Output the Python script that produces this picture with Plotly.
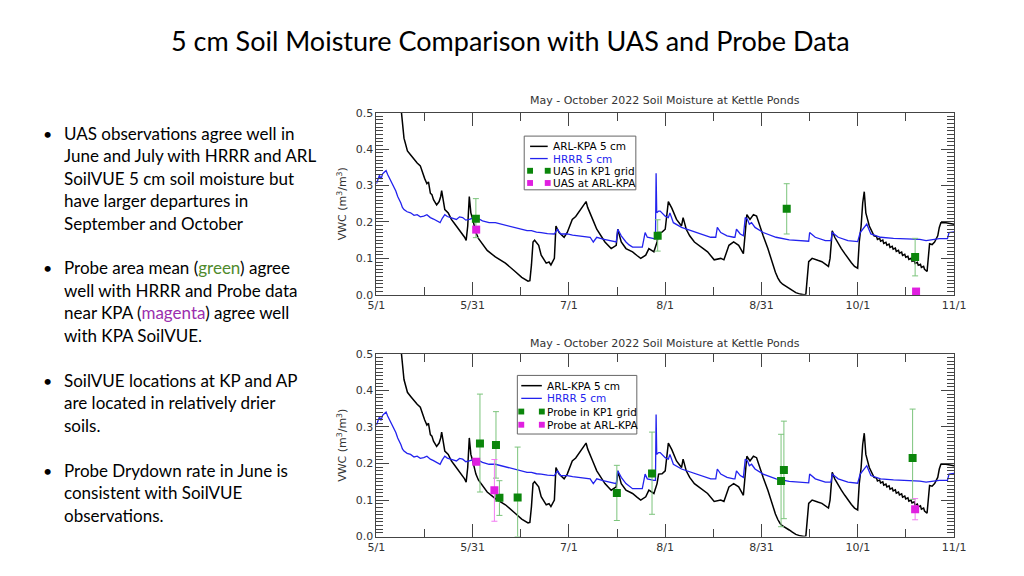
import pandas as pd
import plotly.graph_objects as go

# ---------------- data (days since 2022-05-01, VWC m3/m3) ----------------
kpa_day = [7.6, 8.0, 8.8, 9.4, 9.9, 11.0, 12.0, 13.0, 14.0, 14.7, 15.4, 16.1, 16.6, 17.2, 17.7, 18.2, 18.7, 19.2,
           20.0, 20.5, 20.8, 21.3, 21.8, 22.9, 23.4, 23.9, 24.7, 25.5, 26.2, 27.0, 28.1, 28.6, 29.1, 29.6, 30.1,
           30.7, 31.7, 32.5, 33.3, 35.3, 37.9, 41.1, 44.2, 46.3, 48.3, 48.9, 49.4, 49.9, 50.4, 50.9, 51.7, 52.5,
           54.1, 55.0, 55.6, 56.7, 57.2, 58.2, 59.0, 59.8, 60.8, 62.4, 63.5, 65.0, 66.0, 66.8, 67.3, 68.1, 69.0,
           70.2, 71.5, 72.8, 74.8, 76.4, 76.9, 78.0, 79.5, 81.6, 83.0, 84.2, 85.8, 86.8, 88.4, 89.4, 89.9, 91.0,
           92.0, 93.0, 94.1, 95.6, 97.2, 97.7, 98.7, 99.8, 101.3, 103.4, 105.5, 107.6, 109.7, 110.7, 112.3, 113.8,
           115.4, 116.9, 118.0, 119.0, 120.1, 121.1, 122.1, 123.2, 124.7, 125.5, 126.3, 127.1, 127.9, 128.6, 129.4,
           130.5, 131.5, 132.5, 133.6, 135.0, 136.2, 136.8, 137.2, 137.7, 138.8, 139.8, 140.8, 141.9, 143.0, 144.0,
           144.5, 145.2, 146.0, 147.0, 148.1, 149.2, 150.2, 151.3, 152.3, 153.3, 153.8, 154.4, 154.9, 155.4, 155.9,
           156.4, 157.0, 158.5, 159.3, 159.6, 160.3, 160.6, 161.3, 161.6, 162.3, 162.6, 163.3, 163.6, 164.3, 164.6,
           165.3, 165.6, 166.3, 166.6, 167.3, 167.6, 168.3, 168.6, 169.3, 169.6, 170.3, 170.6, 171.3, 171.6, 172.3,
           172.6, 173.3, 173.6, 174.3, 174.6, 175.0, 175.4, 176.2, 177.0, 177.8, 178.8, 179.3, 179.8, 181.4, 182.5,
           184.0]
kpa_vwc = [0.56, 0.50, 0.43, 0.41, 0.395, 0.383, 0.372, 0.362, 0.354, 0.335, 0.319, 0.305, 0.31, 0.279, 0.275, 0.261,
           0.255, 0.247, 0.256, 0.27, 0.286, 0.252, 0.234, 0.225, 0.215, 0.207, 0.198, 0.189, 0.18, 0.171, 0.158,
           0.149, 0.189, 0.27, 0.225, 0.207, 0.171, 0.155, 0.145, 0.122, 0.104, 0.087, 0.064, 0.048, 0.0375, 0.039,
           0.082, 0.145, 0.15, 0.145, 0.136, 0.109, 0.087, 0.09, 0.082, 0.1, 0.189, 0.171, 0.165, 0.158, 0.171,
           0.207, 0.215, 0.234, 0.245, 0.256, 0.24, 0.225, 0.205, 0.18, 0.162, 0.145, 0.127, 0.136, 0.18, 0.145,
           0.127, 0.118, 0.108, 0.1, 0.109, 0.127, 0.118, 0.145, 0.171, 0.172, 0.18, 0.256, 0.238, 0.207, 0.189,
           0.212, 0.18, 0.162, 0.145, 0.131, 0.118, 0.096, 0.1, 0.096, 0.136, 0.145, 0.136, 0.113, 0.22, 0.207,
           0.22, 0.216, 0.189, 0.162, 0.127, 0.105, 0.082, 0.062, 0.046, 0.036, 0.029, 0.022, 0.018, 0.012, 0.006,
           0.002, 0.0, 0.002, 0.046, 0.091, 0.1, 0.096, 0.094, 0.091, 0.085, 0.078, 0.1, 0.176, 0.158, 0.142,
           0.127, 0.113, 0.1, 0.088, 0.078, 0.073, 0.145, 0.189, 0.252, 0.283, 0.225, 0.207, 0.189, 0.162, 0.16,
           0.152, 0.155, 0.147, 0.150, 0.141, 0.144, 0.136, 0.139, 0.130, 0.133, 0.125, 0.128, 0.119, 0.122, 0.114,
           0.117, 0.108, 0.111, 0.103, 0.106, 0.097, 0.100, 0.092, 0.095, 0.086, 0.089, 0.081, 0.084, 0.075, 0.078,
           0.070, 0.068, 0.064, 0.14, 0.138, 0.145, 0.162, 0.185, 0.198, 0.198, 0.196, 0.194]

hrrr_day = [0, 0.5, 1.0, 1.5, 2.0, 2.6, 3.1, 3.6, 4.2, 5.0, 5.7, 6.2, 6.8, 7.3, 7.8, 8.3, 8.8, 9.8, 10.9, 12.0, 13.0,
            14.0, 15.1, 16.1, 17.2, 18.2, 19.2, 20.3, 21.0, 21.8, 22.6, 23.4, 24.4, 25.5, 26.5, 27.5, 28.5, 29.6,
            30.6, 31.7, 32.7, 33.8, 34.8, 35.9, 37.9, 40.0, 42.1, 44.2, 46.3, 48.0, 49.4, 51.0, 52.5, 54.5, 56.7,
            57.7, 58.7, 60.8, 62.5, 65.0, 66.5, 68.1, 69.1, 70.2, 72.2, 74.3, 76.4, 76.9, 78.0, 79.5, 80.5, 81.6,
            83.0, 84.7, 85.6, 86.3, 88.4, 88.9, 89.1, 89.3, 89.9, 90.4, 92.0, 93.0, 93.5, 94.6, 97.2, 100.3, 103.4,
            106.5, 108.1, 108.6, 109.7, 111.7, 113.8, 114.2, 114.7, 115.9, 116.9, 117.5, 118.2, 118.8, 119.5, 120.6,
            123.2, 127.3, 131.5, 135.6, 137.7, 138.0, 139.8, 143.0, 144.8, 145.2, 147.1, 150.2, 153.3, 154.1, 155.4,
            156.2, 157.5, 160.6, 164.7, 168.9, 173.1, 175.1, 177.2, 179.3, 181.9, 182.4, 184.0]
hrrr_vwc = [0.305, 0.32, 0.328, 0.318, 0.332, 0.337, 0.341, 0.33, 0.319, 0.305, 0.296, 0.285, 0.27, 0.262, 0.252, 0.24,
            0.234, 0.228, 0.225, 0.218, 0.22, 0.214, 0.216, 0.22, 0.212, 0.208, 0.203, 0.198, 0.21, 0.22, 0.215,
            0.212, 0.21, 0.207, 0.214, 0.212, 0.205, 0.207, 0.21, 0.203, 0.208, 0.203, 0.2, 0.198, 0.198, 0.193,
            0.189, 0.184, 0.18, 0.176, 0.176, 0.172, 0.171, 0.168, 0.167, 0.18, 0.167, 0.167, 0.164, 0.162, 0.16,
            0.158, 0.145, 0.158, 0.153, 0.149, 0.145, 0.18, 0.162, 0.145, 0.137, 0.131, 0.131, 0.131, 0.171, 0.158,
            0.154, 0.154, 0.334, 0.225, 0.23, 0.23, 0.216, 0.212, 0.225, 0.198, 0.185, 0.176, 0.167, 0.158, 0.158,
            0.185, 0.171, 0.162, 0.158, 0.158, 0.18, 0.167, 0.162, 0.212, 0.207, 0.194, 0.198, 0.185, 0.171, 0.158,
            0.151, 0.149, 0.147, 0.171, 0.158, 0.149, 0.149, 0.171, 0.158, 0.149, 0.146, 0.171, 0.185, 0.194,
            0.167, 0.158, 0.155, 0.154, 0.152, 0.149, 0.152, 0.154, 0.154, 0.171, 0.173]

# UAS (top panel)
uas_grid_day = [31.7, 89.6, 130.7, 171.6]
uas_grid_vwc = [0.209, 0.162, 0.236, 0.104]
uas_grid_hi = [0.264, 0.206, 0.305, 0.155]
uas_grid_lo = [0.157, 0.120, 0.167, 0.052]
uas_kpa_day = [31.8, 171.9]
uas_kpa_vwc = [0.179, 0.009]

# Probe (bottom panel)
probe_grid_day = [33.0, 38.1, 39.2, 45.0, 76.6, 87.8, 128.9, 129.8, 170.8]
probe_grid_vwc = [0.255, 0.251, 0.106, 0.107, 0.119, 0.173, 0.152, 0.182, 0.215]
probe_grid_hi = [0.390, 0.342, 0.153, 0.245, 0.195, 0.286, 0.280, 0.316, 0.349]
probe_grid_lo = [0.122, 0.160, 0.058, 0.000, 0.044, 0.061, 0.027, 0.049, 0.102]
probe_kpa_day = [31.8, 37.6, 171.6]
probe_kpa_vwc = [0.205, 0.127, 0.075]
probe_kpa_hi = [0.205, 0.211, 0.104]
probe_kpa_lo = [0.205, 0.042, 0.046]

tick_days = [0, 30.667, 61.333, 92, 122.667, 153.333, 184]
tick_labels = ["5/1", "5/31", "7/1", "8/1", "8/31", "10/1", "11/1"]
minor_days = [15.333, 46, 76.667, 107.333, 138, 168.667]

slide_title = "5 cm Soil Moisture Comparison with UAS and Probe Data"
panel_title = "May - October 2022 Soil Moisture at Kettle Ponds"
top_legend_labels = ["ARL-KPA 5 cm", "HRRR 5 cm", "UAS in KP1 grid", "UAS at ARL-KPA"]
bot_legend_labels = ["ARL-KPA 5 cm", "HRRR 5 cm", "Probe in KP1 grid", "Probe at ARL-KPA"]
bullets = [
    ["UAS observations agree well in", "June and July with HRRR and ARL", "SoilVUE 5 cm soil moisture but",
     "have larger departures in", "September and October"],
    ["Probe area mean (<span style='color:#4f8a2c'>green</span>) agree", "well with HRRR and Probe data",
     "near KPA (<span style='color:#9b2fae'>magenta</span>) agree well", "with KPA SoilVUE."],
    ["SoilVUE locations at KP and AP", "are located in relatively drier", "soils."],
    ["Probe Drydown rate in June is", "consistent with SoilVUE", "observations."],
]
bullet_tops = [130, 268, 383, 475]

# ---------------- figure ----------------
base = pd.Timestamp("2022-05-01")
PAGE_W, PAGE_H, BODY_MARGIN = 1024, 576, 8
W, H = PAGE_W - 2 * BODY_MARGIN, PAGE_H - 2 * BODY_MARGIN   # figure fits the page exactly


def to_dates(days):
    return [base + pd.Timedelta(days=float(d)) for d in days]


def err(v, hi, lo):
    return dict(type="data", symmetric=False, array=[h - x for h, x in zip(hi, v)],
                arrayminus=[x - l for l, x in zip(lo, v)], thickness=1, width=3)


def px(x):  # page pixel -> paper fraction
    return (x - BODY_MARGIN) / W


def py(y):
    return 1 - (y - BODY_MARGIN) / H


GREEN = "#0b860b"
MAG = "#e01fe0"
BLUE = "#2222ee"
AXC = "#444444"

fig = go.Figure()

for ax in ["", "2"]:
    xa, ya = "x" + ax, "y" + ax
    fig.add_trace(go.Scatter(x=to_dates(kpa_day), y=kpa_vwc, mode="lines", name="ARL-KPA 5 cm",
                             line=dict(color="black", width=1.5), xaxis=xa, yaxis=ya))
    fig.add_trace(go.Scatter(x=to_dates(hrrr_day), y=hrrr_vwc, mode="lines", name="HRRR 5 cm",
                             line=dict(color=BLUE, width=1.3), xaxis=xa, yaxis=ya))
    if ax == "":
        fig.add_trace(go.Scatter(x=to_dates(uas_grid_day), y=uas_grid_vwc, mode="markers",
                                 name=top_legend_labels[2],
                                 marker=dict(symbol="square", size=8, color=GREEN),
                                 error_y=dict(err(uas_grid_vwc, uas_grid_hi, uas_grid_lo), color="#7cc47c"),
                                 xaxis=xa, yaxis=ya))
        fig.add_trace(go.Scatter(x=to_dates(uas_kpa_day), y=uas_kpa_vwc, mode="markers",
                                 name=top_legend_labels[3],
                                 marker=dict(symbol="square", size=8, color=MAG),
                                 xaxis=xa, yaxis=ya, cliponaxis=False))
    else:
        fig.add_trace(go.Scatter(x=to_dates(probe_grid_day), y=probe_grid_vwc, mode="markers",
                                 name=bot_legend_labels[2],
                                 marker=dict(symbol="square", size=8, color=GREEN),
                                 error_y=dict(err(probe_grid_vwc, probe_grid_hi, probe_grid_lo), color="#7cc47c"),
                                 xaxis=xa, yaxis=ya))
        fig.add_trace(go.Scatter(x=to_dates(probe_kpa_day), y=probe_kpa_vwc, mode="markers",
                                 name=bot_legend_labels[3],
                                 marker=dict(symbol="square", size=8, color=MAG),
                                 error_y=dict(err(probe_kpa_vwc, probe_kpa_hi, probe_kpa_lo), color="#f27af2"),
                                 xaxis=xa, yaxis=ya))

tfont = dict(family="DejaVu Sans", size=11, color="#333333")
xaxis_common = dict(
    type="date", range=[base, base + pd.Timedelta(days=184)], domain=[px(375), px(965)],
    tickmode="array", tickvals=to_dates(tick_days), ticktext=tick_labels,
    ticks="inside", ticklen=13, tickwidth=1, tickcolor=AXC,
    minor=dict(tickmode="array", tickvals=to_dates(minor_days), ticks="inside", ticklen=8, tickcolor=AXC),
    showline=True, linecolor=AXC, linewidth=1, mirror="allticks", showgrid=False, zeroline=False,
    tickfont=tfont,
)
yaxis_common = dict(
    range=[0, 0.5], dtick=0.1, tick0=0, tickformat=".1f",
    ticks="inside", ticklen=13, tickwidth=1, tickcolor=AXC,
    minor=dict(dtick=0.01, ticks="inside", ticklen=7, tickcolor=AXC),
    showline=True, linecolor=AXC, linewidth=1, mirror="allticks", showgrid=False, zeroline=False,
    tickfont=tfont,
    title=dict(text="VWC (m<sup>3</sup>/m<sup>3</sup>)", font=tfont, standoff=6),
)

fig.update_layout(
    width=W, height=H, margin=dict(l=0, r=0, t=0, b=0),
    paper_bgcolor="white", plot_bgcolor="white", showlegend=False,
    xaxis=dict(xaxis_common, anchor="y"),
    yaxis=dict(yaxis_common, domain=[py(295.5), py(109)], anchor="x"),
    xaxis2=dict(xaxis_common, anchor="y2"),
    yaxis2=dict(yaxis_common, domain=[py(543), py(356)], anchor="x2"),
)

ann = []
shapes = []
ann.append(dict(text=slide_title, x=px(512), y=py(35), xref="paper", yref="paper", showarrow=False,
                xanchor="center", yanchor="middle", font=dict(family="Lato", size=27, color="black")))
for yy in (97, 345):
    ann.append(dict(text=panel_title, x=px(670), y=py(yy), xref="paper", yref="paper", showarrow=False,
                    xanchor="center", yanchor="middle", font=tfont))
for lines, top in zip(bullets, bullet_tops):
    ann.append(dict(text="•", x=px(32), y=py(top), xref="paper", yref="paper", showarrow=False,
                    xanchor="left", yanchor="middle", font=dict(family="Lato", size=16, color="black")))
    for i, ln in enumerate(lines):
        ann.append(dict(text=ln, x=px(54), y=py(top + 23 * i), xref="paper", yref="paper",
                        showarrow=False, xanchor="left", yanchor="middle",
                        font=dict(family="Lato", size=17, color="black")))

# hand-drawn legends in IDL style (box, line samples, double squares)
lfont = dict(family="DejaVu Sans", size=10.5, color="black")
for labels, box, rows, xs, xt in [
        (top_legend_labels, (526, 133, 640, 188), (143.5, 156, 168.5, 181), (532, 550), 553),
        (bot_legend_labels, (519, 378, 641, 438), (388.5, 401.5, 415, 428.5), (523, 544), 547)]:
    shapes.append(dict(type="rect", xref="paper", yref="paper", x0=px(box[0]), x1=px(box[2]),
                       y0=py(box[3]), y1=py(box[1]), line=dict(color="#666666", width=1),
                       fillcolor="white", layer="above"))
    colors = ["black", BLUE, GREEN, MAG]
    for i, (lab, yy, c) in enumerate(zip(labels, rows, colors)):
        if i < 2:
            shapes.append(dict(type="line", xref="paper", yref="paper", x0=px(xs[0]), x1=px(xs[1]),
                               y0=py(yy), y1=py(yy), line=dict(color=c, width=1.5 if i == 0 else 1.3),
                               layer="above"))
        else:
            for xc in xs:
                shapes.append(dict(type="rect", xref="paper", yref="paper", x0=px(xc - 3), x1=px(xc + 3),
                                   y0=py(yy + 3), y1=py(yy - 3), line=dict(width=0), fillcolor=c,
                                   layer="above"))
        ann.append(dict(text=lab, x=px(xt), y=py(yy), xref="paper", yref="paper", showarrow=False,
                        xanchor="left", yanchor="middle",
                        font=dict(lfont, color=BLUE if i == 1 else "black")))

fig.update_layout(annotations=ann, shapes=shapes)

fig.write_html("out.html", config={"displayModeBar": False})
